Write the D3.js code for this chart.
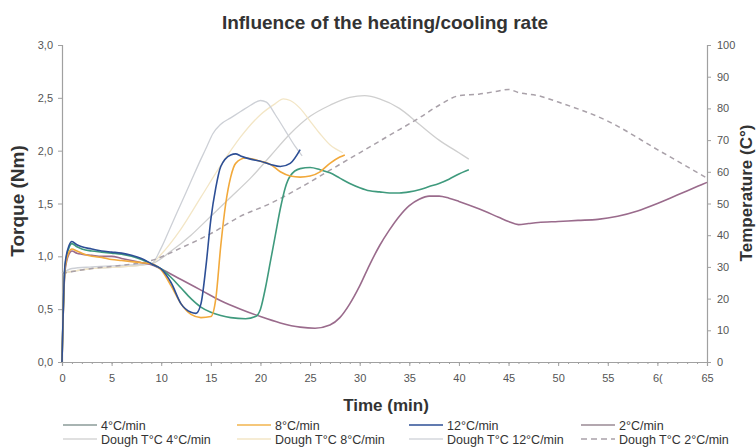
<!DOCTYPE html>
<html><head><meta charset="utf-8">
<script src="https://cdn.jsdelivr.net/npm/d3@7/dist/d3.min.js"></script>
<style>
html,body{margin:0;padding:0;background:#fff;}
svg{display:block;font-family:"Liberation Sans",Arial,sans-serif;}
</style></head>
<body><svg id="c" width="756" height="448"></svg>
<script>
// ---- data (time in min) ----
const xTicks = [0,5,10,15,20,25,30,35,40,45,50,55,60,65];
const xTickLabels = ["0","5","10","15","20","25","30","35","40","45","50","55","6(","65"];
const torqueTicks = [0,0.5,1,1.5,2,2.5,3];
const tempTicks = [0,10,20,30,40,50,60,70,80,90,100];

const torque4 = [[0,0],[0.3,0.9],[0.7,1.08],[1,1.12],[1.5,1.09],[2,1.07],[3,1.05],[4,1.04],[5,1.03],[6,1.02],[7,1.0],[8,0.97],[9,0.93],[10,0.88],[11,0.8],[12,0.7],[13,0.6],[14,0.52],[15,0.47],[16,0.44],[17,0.42],[18.5,0.41],[19.5,0.43],[20,0.5],[20.5,0.7],[21,0.95],[21.5,1.2],[22,1.45],[22.5,1.65],[23,1.76],[24,1.83],[25,1.84],[26,1.82],[27,1.79],[28,1.74],[29,1.69],[30,1.65],[31,1.62],[32,1.61],[33,1.6],[34,1.6],[35,1.61],[36,1.63],[37,1.66],[38,1.69],[39,1.73],[40,1.78],[41,1.82]];
const torque8 = [[0,0],[0.3,0.88],[0.7,1.04],[1,1.07],[1.5,1.05],[2,1.03],[3,1.0],[4,0.99],[5,0.97],[6,0.96],[7,0.95],[8,0.94],[9,0.93],[10,0.87],[11,0.72],[12,0.55],[13,0.45],[14,0.42],[15,0.43],[15.5,0.6],[16,1.1],[16.5,1.5],[17,1.75],[17.5,1.88],[18.5,1.93],[20,1.9],[21,1.87],[22,1.8],[23,1.76],[24,1.75],[25,1.76],[26,1.8],[27,1.88],[28,1.94],[28.5,1.96]];
const torque12 = [[0,0],[0.3,0.92],[0.7,1.1],[1,1.14],[1.5,1.11],[2,1.09],[3,1.07],[4,1.05],[5,1.04],[6,1.03],[7,1.01],[8,0.98],[9,0.93],[10,0.88],[11,0.75],[12,0.55],[13,0.47],[13.5,0.46],[14,0.55],[14.5,0.9],[15,1.35],[15.5,1.65],[16,1.85],[17,1.96],[17.5,1.97],[18,1.95],[19,1.92],[20,1.9],[21,1.87],[22,1.85],[23,1.88],[24,2.01]];
const torque2 = [[0,0],[0.3,0.86],[0.7,1.02],[1,1.05],[1.5,1.03],[2,1.02],[3,1.01],[4,1.0],[5,1.0],[6,0.98],[7,0.96],[8,0.94],[9,0.92],[10,0.88],[12,0.78],[14,0.68],[16,0.58],[18,0.5],[20,0.43],[22,0.37],[24,0.33],[25.5,0.32],[27,0.35],[28,0.42],[29,0.55],[30,0.72],[31,0.92],[32,1.1],[33,1.25],[34,1.38],[35,1.48],[36,1.54],[37,1.57],[38,1.57],[39,1.55],[40,1.52],[42,1.45],[44,1.37],[45,1.33],[46,1.3],[47,1.31],[48,1.32],[50,1.33],[52,1.34],[54,1.35],[56,1.38],[58,1.43],[60,1.5],[62,1.58],[64,1.66],[65,1.7]];

const dough4 = [[0,28],[3,29.5],[6,30],[9,31],[11,35],[13,40],[15,46],[17,52],[19,58],[21,65],[23,72],[25,77.5],[27,81],[29,83.5],[30.5,84],[32,83],[34,80],[36,75],[38,70],[40,66],[41,64]];
const dough8 = [[0,28],[3,29.5],[6,30],[9,31],[10,34],[12,42],[14,52],[16,62],[18,71],[20,78],[21.5,81.5],[22.3,83],[23,82.5],[24,80],[25,76],[26,72],[27,68.5],[28.3,66]];
const dough12 = [[0,28],[1,29.5],[3,30],[6,30.5],[9,31],[10,36],[11,43],[12,50],[13,57],[14,64],[14.6,68],[15.2,72],[16,75],[17,77],[18,79],[19,81],[20,82.5],[20.6,82],[21.5,78],[22.5,73],[23.5,68],[24.2,65]];
const dough2 = [[0,28],[3,29.5],[6,30.5],[9,32],[12,36],[15,40.5],[18,46],[21,50],[24,55],[27,60.5],[30,66],[33,71.5],[36,77],[38,81],[40,84],[42,84.5],[44,85.5],[45,86],[46,85],[48,84],[50,82],[55,76],[60,67],[65,58]];

const legendLabels = ["4°C/min","8°C/min","12°C/min","2°C/min","Dough T°C 4°C/min","Dough T°C 8°C/min","Dough T°C 12°C/min","Dough T°C 2°C/min"];

// ---- chart ----
const svg = d3.select("#c");
const L=62,R=707,T=45,B=362;
const x = d3.scaleLinear().domain([0,65]).range([L,R]);
const yT = d3.scaleLinear().domain([0,3]).range([B,T]);
const yC = d3.scaleLinear().domain([0,100]).range([B,T]);
const axisCol="#a0a0a0", labCol="#555";
const fmt = d3.format(".1f");

svg.append("text").attr("x",385).attr("y",29).attr("text-anchor","middle")
  .attr("font-size",19).attr("font-weight","bold").attr("fill","#333").text("Influence of the heating/cooling rate");

// axes
svg.append("g").attr("transform",`translate(${L},0)`)
  .call(d3.axisLeft(yT).tickValues(torqueTicks).tickSize(4).tickPadding(5).tickFormat(d=>fmt(d).replace(".",",")));
svg.append("g").attr("transform",`translate(${R},0)`)
  .call(d3.axisRight(yC).tickValues(tempTicks).tickSize(4).tickPadding(6));
svg.append("g").attr("transform",`translate(0,${B})`)
  .call(d3.axisBottom(x).tickValues(xTicks).tickSize(4).tickPadding(8).tickFormat((d,i)=>xTickLabels[i]));
svg.append("g").attr("transform",`translate(0,${B})`)
  .call(d3.axisBottom(x).tickValues(d3.range(0,66,1)).tickSize(2).tickFormat(""))
  .call(g=>g.select(".domain").remove());
svg.selectAll(".domain").attr("stroke",axisCol).attr("stroke-width",1.2);
svg.selectAll(".tick line").attr("stroke",axisCol);
svg.selectAll(".tick text").attr("fill",labCol).attr("font-size",11).attr("font-family","Liberation Sans, Arial, sans-serif");

// axis titles
svg.append("text").attr("transform","translate(24,201) rotate(-90)").attr("text-anchor","middle")
  .attr("font-size",19).attr("font-weight","bold").attr("fill","#333").text("Torque (Nm)");
svg.append("text").attr("transform","translate(752,193) rotate(-90)").attr("text-anchor","middle")
  .attr("font-size",17).attr("font-weight","bold").attr("fill","#333").text("Temperature (C°)");
svg.append("text").attr("x",386).attr("y",411).attr("text-anchor","middle")
  .attr("font-size",17).attr("font-weight","bold").attr("fill","#333").text("Time (min)");

const lineT = d3.line().x(d=>x(d[0])).y(d=>yT(d[1])).curve(d3.curveMonotoneX);
const lineC = d3.line().x(d=>x(d[0])).y(d=>yC(d[1])).curve(d3.curveMonotoneX);

const series = [
  {d:dough4, l:lineC, c:"#cfcfcf", w:1.3},
  {d:dough8, l:lineC, c:"#f3e6c6", w:1.3},
  {d:dough12,l:lineC, c:"#cdd0d6", w:1.3},
  {d:dough2, l:lineC, c:"#a9a1a9", w:1.5, dash:"5,4"},
  {d:torque2, l:lineT, c:"#9a6b8c", w:1.6},
  {d:torque4, l:lineT, c:"#3f9a7d", w:1.6},
  {d:torque8, l:lineT, c:"#f2a93b", w:1.6},
  {d:torque12,l:lineT, c:"#2d4f96", w:1.6},
];
series.forEach(s=>{
  svg.append("path").datum(s.d).attr("d",s.l).attr("fill","none")
    .attr("stroke",s.c).attr("stroke-width",s.w).attr("stroke-dasharray",s.dash||null);
});

// legend
const legCols = ["#8b9b98","#f2b54e","#2d4f96","#9a8a94","#d6d6d6","#f3e6c6","#d4d7dc","#a9a1a9"];
const colX = [63,237,409,581];
const rowY = [425,439];
legendLabels.forEach((lab,i)=>{
  const cx = colX[i%4], cy=rowY[Math.floor(i/4)];
  svg.append("line").attr("x1",cx).attr("x2",cx+34).attr("y1",cy).attr("y2",cy)
    .attr("stroke",legCols[i]).attr("stroke-width",1.6).attr("stroke-dasharray",i===7?"6,4":null);
  svg.append("text").attr("x",cx+38).attr("y",cy+4.5).attr("font-size",12.5)
    .attr("fill","#333").text(lab);
});
</script></body></html>
